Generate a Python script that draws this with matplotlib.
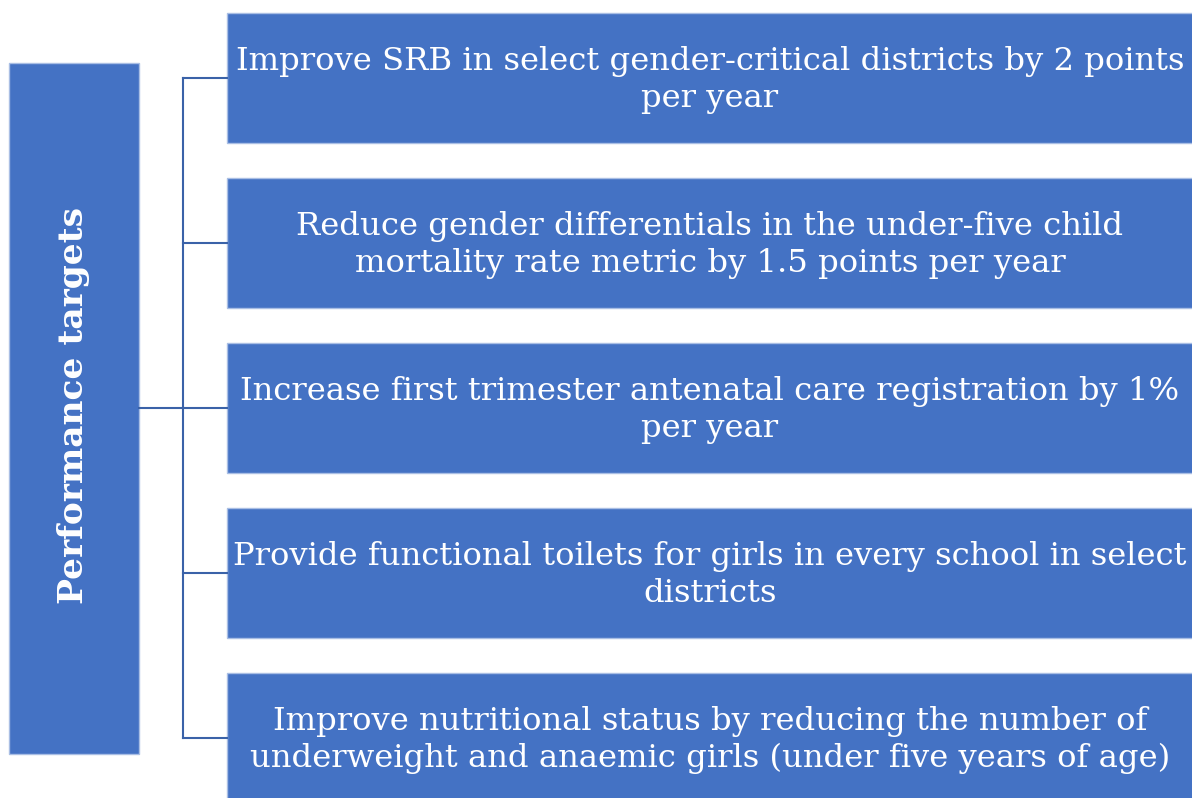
import matplotlib.pyplot as plt
from matplotlib.patches import Rectangle

root_label = "Performance targets"
targets = [
    "Improve SRB in select gender-critical districts by 2 points\nper year",
    "Reduce gender differentials in the under-five child\nmortality rate metric by 1.5 points per year",
    "Increase first trimester antenatal care registration by 1%\nper year",
    "Provide functional toilets for girls in every school in select\ndistricts",
    "Improve nutritional status by reducing the number of\nunderweight and anaemic girls (under five years of age)",
]

fill = "#4472C4"
edge = "#A9BEE4"
line_col = "#3A62A8"

fig = plt.figure(figsize=(11.92, 7.98), dpi=100)
ax = fig.add_axes([0, 0, 1, 1])
ax.set_xlim(0, 1192)
ax.set_ylim(798, 0)
ax.axis("off")

# root box
ax.add_patch(Rectangle((9, 63), 130, 691, facecolor=fill, edgecolor=edge, lw=1))
ax.text(74, 406, root_label, rotation=90, ha="center", va="center", color="white",
        fontsize=24.8, fontweight="bold", family="DejaVu Serif")

# target boxes
x0, w, h, top, step = 227, 970, 130, 13, 165
spine_x = 183
centers = []
for i, t in enumerate(targets):
    y = top + i * step
    cy = y + h / 2
    centers.append(cy)
    ax.add_patch(Rectangle((x0, y), w, h, facecolor=fill, edgecolor=edge, lw=1))
    ax.text(x0 + 483, cy + 2, t, ha="center", va="center", color="white",
            fontsize=23.2, family="DejaVu Serif", linespacing=1.24)
    ax.plot([spine_x, x0], [cy, cy], color=line_col, lw=1.5)

ax.plot([spine_x, spine_x], [centers[0], centers[-1]], color=line_col, lw=1.5)
ax.plot([139, spine_x], [centers[2], centers[2]], color=line_col, lw=1.5)

fig.savefig("out.png", dpi=100, facecolor="white")
